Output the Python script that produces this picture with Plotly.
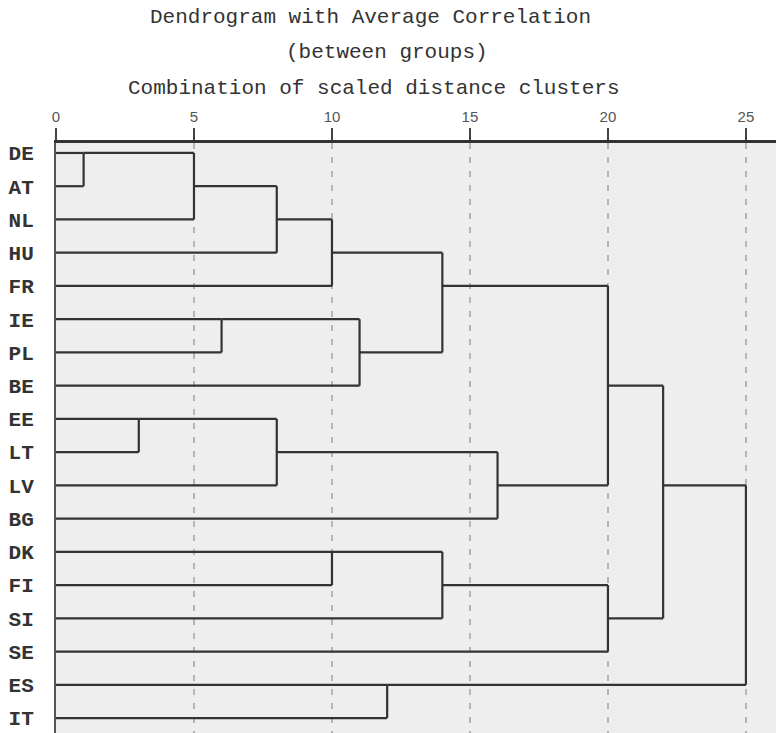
import plotly.graph_objects as go
import math

# ---- data ----
leaves = ["DE", "AT", "NL", "HU", "FR", "IE", "PL", "BE", "EE", "LT", "LV", "BG",
          "DK", "FI", "SI", "SE", "ES", "IT"]
# merges: (child_a, child_b, rescaled distance); leaf ids 0..17, new nodes 18..
merge_a = [0, 18, 19, 20, 5, 22, 21, 8, 25, 26, 24, 12, 29, 30, 28, 16, 32]
merge_b = [1, 2, 3, 4, 6, 7, 23, 9, 10, 11, 27, 13, 14, 15, 31, 17, 33]
merge_h = [1, 5, 8, 10, 6, 11, 14, 3, 8, 16, 20, 10, 14, 20, 22, 12, 25]
x_ticks = [0, 5, 10, 15, 20, 25]
title_lines = ["Dendrogram with Average Correlation", "(between groups)",
               "Combination of scaled distance clusters"]

# ---- build dendrogram geometry ----
n = len(leaves)
node_y = {i: i for i in range(n)}
node_x = {i: 0 for i in range(n)}
xs, ys = [], []
for k, (a, b, h) in enumerate(zip(merge_a, merge_b, merge_h)):
    for c in (a, b):
        xs += [node_x[c], h, None]
        ys += [node_y[c], node_y[c], None]
    xs += [h, h, None]
    ys += [node_y[a], node_y[b], None]
    nid = n + k
    node_x[nid] = h
    node_y[nid] = math.floor((node_y[a] + node_y[b]) / 2)

fig = go.Figure()
fig.add_trace(go.Scatter(x=xs, y=ys, mode="lines",
                         line=dict(color="#333333", width=2.2),
                         hoverinfo="skip", showlegend=False))

W, H = 776, 733
L, R, T, B = 56, 0, 143, 0
ph = H - T - B
pw = W - L - R

def px_to_paper(xp, yp):
    return (xp - L) / pw, (H - B - yp) / ph

title_pos = [(370, 18), (387, 53), (373, 88)]
for txt, (xp, yp) in zip(title_lines, title_pos):
    xpaper, ypaper = px_to_paper(xp, yp)
    fig.add_annotation(text=txt, xref="paper", yref="paper", x=xpaper, y=ypaper,
                       xanchor="center", yanchor="middle", showarrow=False,
                       font=dict(family="Liberation Mono", size=21, color="#333333"))

fig.update_layout(
    width=W, height=H,
    margin=dict(l=L, r=R, t=T, b=B, autoexpand=False),
    paper_bgcolor="white",
    plot_bgcolor="#eeeeee",
    xaxis=dict(side="top", range=[0, 26.09], tickvals=x_ticks, automargin=False,
               ticks="outside", ticklen=12, tickwidth=1.5, tickcolor="#444444",
               showline=True, linecolor="#333333", linewidth=3,
               showgrid=True, gridcolor="#b5b5b5", gridwidth=1.5, griddash="6px,8px",
               zeroline=False,
               tickfont=dict(family="Liberation Sans", size=15, color="#555555")),
    yaxis=dict(range=[17.45, -0.3], tickvals=list(range(n)), ticktext=leaves,
               automargin=False, ticklabeloverflow="allow",
               showgrid=False, zeroline=False, ticks="",
               showline=True, linecolor="#555555", linewidth=2,
               ticklabelstandoff=16,
               tickfont=dict(family="Liberation Mono", size=21, color="#333333",
                             weight="bold")),
)

fig.write_html("out.html", config={"displayModeBar": False},
               post_script="document.body.style.margin='0';")
